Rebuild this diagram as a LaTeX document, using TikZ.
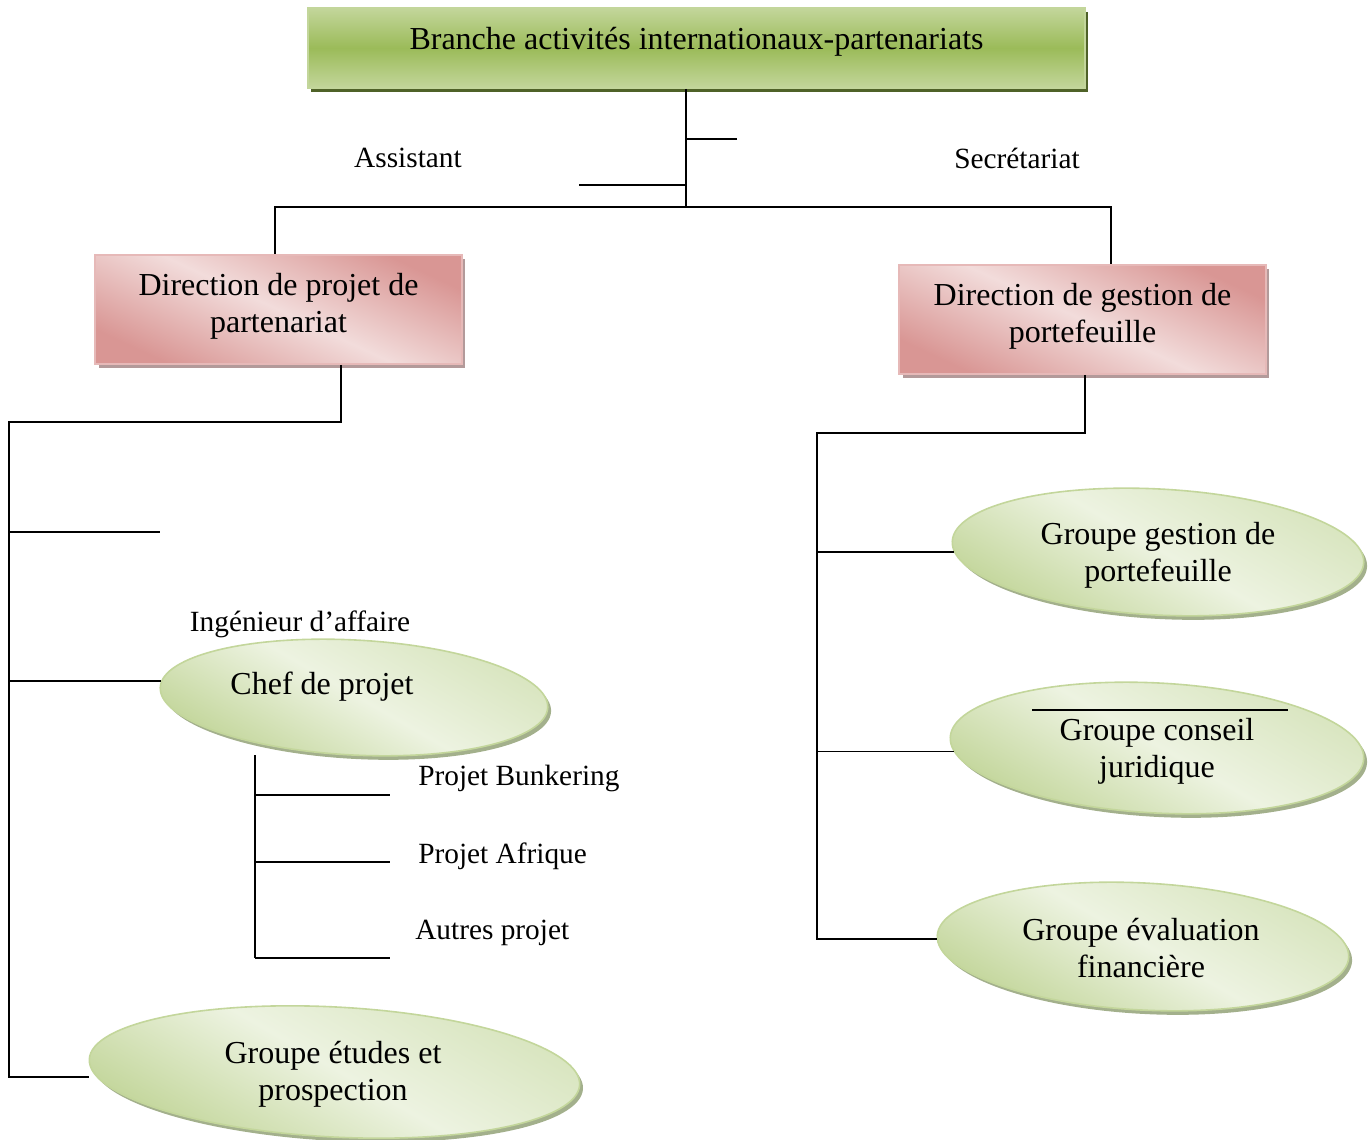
\documentclass[tikz,border=0pt]{standalone}
\usepackage{fontspec}
\setmainfont{Liberation Serif}
\usetikzlibrary{shapes.geometric,shadows}

\definecolor{grnDark}{HTML}{4F6228}
\definecolor{grnMid}{HTML}{9BBB59}
\definecolor{grnLight}{HTML}{C3D69B}
\definecolor{grnSoft}{HTML}{D7E4BD}
\definecolor{grnPale}{HTML}{EDF3E1}
\definecolor{grnShadow}{HTML}{A3B08C}
\definecolor{pinkDark}{HTML}{D99694}
\definecolor{pinkLight}{HTML}{F2DCDB}
\definecolor{pinkBorder}{HTML}{E6B9B8}
\definecolor{pinkShadow}{HTML}{B39A9A}

\newcommand{\bigtxt}{\fontsize{24}{27.75}\selectfont}
\newcommand{\smalltxt}{\fontsize{22}{25}\selectfont}
\newcommand{\twolines}[2]{\raisebox{2.25pt}[\height][\depth]{\begin{tabular}{@{}c@{}}#1\\#2\end{tabular}}}

\begin{document}
\begin{tikzpicture}[x=0.75pt,y=-0.75pt,
  link/.style={draw=black,line width=1.4pt},
  headbox/.style={rectangle,draw=grnLight,line width=1.2pt,
    top color=grnLight,bottom color=grnLight,middle color=grnMid,
    drop shadow={shadow xshift=2.5pt,shadow yshift=-3pt,fill=grnDark,opacity=1},
    minimum width=582.75pt,minimum height=60pt,inner sep=0pt,font=\bigtxt},
  dirbox/.style={rectangle,draw=pinkBorder,line width=1.2pt,
    top color=pinkDark,bottom color=pinkDark,middle color=pinkLight,shading angle=-25,
    drop shadow={shadow xshift=2.5pt,shadow yshift=-3pt,fill=pinkShadow,opacity=1},
    minimum width=275pt,minimum height=81.75pt,inner sep=0pt,align=center,font=\bigtxt},
  groupe/.style={ellipse,draw=grnLight,line width=1.2pt,rotate=-3,
    top color=grnSoft,bottom color=grnLight,middle color=grnPale,shading angle=-30,
    drop shadow={shadow xshift=2.5pt,shadow yshift=-3pt,fill=grnShadow,opacity=1},
    inner sep=0pt},
  gtxt/.style={align=center,font=\bigtxt,inner sep=0pt},
  lbl/.style={font=\smalltxt,inner sep=0pt}
]
\useasboundingbox (0,0) rectangle (1371,1139);

% ---- top level
\node[headbox] (head) at (696.5,48)
  {\raisebox{4.5pt}[\height][\depth]{Branche activités internationaux-partenariats}};

\coordinate (hub) at (686,207);
\coordinate (asstEnd) at (579,185);
\coordinate (secEnd) at (737,139);
\coordinate (busL) at (275,207);
\coordinate (busR) at (1111,207);

\node[lbl] (assistant) at (408,158) {Assistant};
\node[lbl] (secretariat) at (1017,158) {Secrétariat};

% ---- directions
\node[dirbox] (dirA) at (278.5,309.5) {\twolines{Direction de projet de}{partenariat}};
\node[dirbox] (dirB) at (1082.5,319.5) {\twolines{Direction de gestion de}{portefeuille}};

\draw[link] (head.south -| hub) -- (hub);
\draw[link] (asstEnd) -- (asstEnd -| hub);
\draw[link] (secEnd) -- (secEnd -| hub);
\draw[link] (busL |- dirA.north) -- (busL) -- (busR) -- (busR |- dirB.north);

% ---- left branch
\coordinate (dropA) at (341,422);
\coordinate (spineL) at (9,422);
\coordinate (spineLend) at (9,1077);
\coordinate (stubL) at (160,532);

\node[groupe,minimum width=291pt,minimum height=86.25pt] (chef) at (354,697.5) {};
\node[gtxt] (cheftxt) at (322,687) {Chef de projet};
\node[lbl] (ingenieur) at (300,624) {Ingénieur d’affaire};

\node[groupe,minimum width=368.25pt,minimum height=97.5pt] (etudes) at (334.5,1072) {};
\node[gtxt] (etudestxt) at (333,1074) {Groupe études et\\prospection};

\draw[link] (dropA |- dirA.south) -- (dropA) -- (spineL) -- (spineLend) -- (spineLend -| etudes.west);
\draw[link] (spineL |- stubL) -- (stubL);
\draw[link] (spineL |- chef.178) -- (chef.178);

% ---- projects under the chef de projet
\coordinate (subTop) at (255,755);
\coordinate (subBot) at (255,958);
\coordinate (p1) at (390,795);
\coordinate (p2) at (390,862);
\coordinate (p3) at (390,958);
\draw[link] (subTop) -- (subBot);
\draw[link] (subTop |- p1) -- (p1);
\draw[link] (subTop |- p2) -- (p2);
\draw[link] (subBot) -- (p3);

\node[lbl,anchor=west] (bunkering) at (418,778) {Projet Bunkering};
\node[lbl,anchor=west] (afrique) at (418,856) {Projet Afrique};
\node[lbl,anchor=west] (autres) at (415,933) {Autres projet};

% ---- right branch
\coordinate (dropB) at (1085,433);
\coordinate (spineR) at (817,433);

\node[groupe,minimum width=309pt,minimum height=94.5pt] (gestion) at (1158,552) {};
\node[gtxt] (gestiontxt) at (1158,555) {Groupe gestion de\\portefeuille};

\node[groupe,minimum width=310.5pt,minimum height=97.5pt] (conseil) at (1157,748) {};
\node[gtxt] (conseiltxt) at (1157,751) {Groupe conseil\\juridique};
\coordinate (ruleA) at (1032,710);
\coordinate (ruleB) at (1288,710);
\draw[line width=0.9pt] (ruleA) -- (ruleB);

\node[groupe,minimum width=309pt,minimum height=95.25pt] (evaluation) at (1143,946.5) {};
\node[gtxt] (evaluationtxt) at (1141,948) {Groupe évaluation\\financière};

\draw[link] (dropB |- dirB.south) -- (dropB) -- (spineR) -- (spineR |- evaluation.181) -- (evaluation.181);
\draw[link] (spineR |- gestion.183) -- (gestion.183);
\draw[link] (spineR |- conseil.184) -- (conseil.184);
\end{tikzpicture}
\end{document}
